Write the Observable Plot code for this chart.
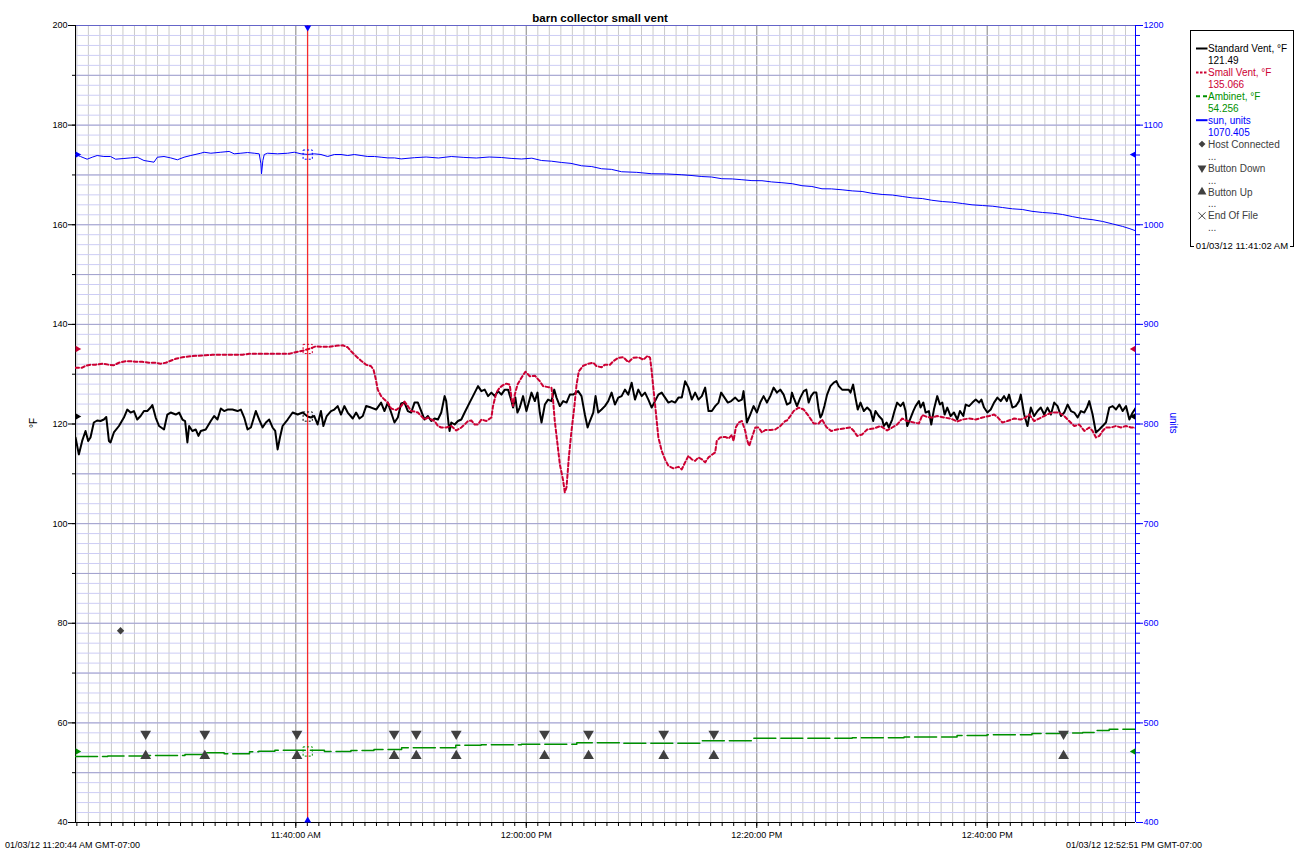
<!DOCTYPE html>
<html><head><meta charset="utf-8">
<script src="https://cdn.jsdelivr.net/npm/d3@7"></script>
<script src="https://cdn.jsdelivr.net/npm/@observablehq/plot@0.6"></script>
<style>body{margin:0;background:#fff;} svg{display:block;}</style>
</head><body><div id="chart"></div>
<script>
// ---------- data (t = minutes after axis start, v = value) ----------
const chartTitle = "barn collector small vent";
const startLabel = "01/03/12 11:20:44 AM GMT-07:00";
const endLabel = "01/03/12 12:52:51 PM GMT-07:00";
const cursorLabel = "01/03/12 11:41:02 AM";
const axisStart = new Date(2012, 0, 3, 11, 20, 53);
const axisEnd = new Date(2012, 0, 3, 12, 52, 52);
const cursorMinute = 20.15;
const leftTicks = [40, 60, 80, 100, 120, 140, 160, 180, 200];
const rightTicks = [400, 500, 600, 700, 800, 900, 1000, 1100, 1200];
const seriesNames = ["Standard Vent, °F", "Small Vent, °F", "Ambinet, °F", "sun, units"];
const cursorValues = [121.49, 135.066, 54.256, 1070.405];
const eventNames = ["Host Connected", "Button Down", "Button Up", "End Of File"];

const standardVent = [
[0.00,117.3],[0.29,113.9],[0.58,116.6],[0.87,118.6],[1.10,116.6],[1.30,117.3],[1.59,120.3],[1.88,120.7],[2.17,120.6],[2.46,120.9],[2.67,121.4],[2.90,116.6],[3.04,116.3],[3.33,118.3],[3.77,119.6],[4.20,121.3],[4.49,122.9],[4.78,122.3],[5.07,122.6],[5.36,120.9],[5.65,121.6],[5.94,122.6],[6.23,122.6],[6.52,123.3],[6.67,123.8],[6.96,121.3],[7.25,119.6],[7.68,118.9],[7.97,121.9],[8.26,122.3],[8.70,121.9],[8.99,122.3],[9.28,120.9],[9.51,120.6],[9.71,116.3],[9.86,119.6],[10.14,118.6],[10.43,118.9],[10.67,117.6],[10.87,118.6],[11.30,118.9],[11.74,120.6],[12.03,121.6],[12.32,120.9],[12.61,123.1],[12.90,122.6],[13.19,122.9],[13.62,122.9],[14.06,122.6],[14.35,122.9],[14.64,121.3],[14.93,118.9],[15.22,119.3],[15.65,122.6],[15.94,120.9],[16.23,119.3],[16.52,120.3],[16.81,120.9],[17.10,119.3],[17.33,118.6],[17.54,114.9],[17.74,117.3],[17.97,119.6],[18.41,120.9],[18.84,122.3],[19.28,121.9],[19.71,122.3],[20.14,121.5],[20.43,121.3],[20.72,121.6],[21.01,119.9],[21.30,122.6],[21.51,119.6],[21.80,121.6],[22.17,122.6],[22.46,122.9],[22.75,123.6],[23.04,121.9],[23.33,123.6],[23.62,122.3],[24.06,121.1],[24.35,122.3],[24.64,121.1],[24.93,121.6],[25.22,123.6],[25.65,123.3],[26.09,122.9],[26.52,124.3],[26.81,122.6],[27.10,124.3],[27.39,122.3],[27.68,120.3],[27.97,121.3],[28.26,124.1],[28.55,124.3],[28.84,122.6],[29.13,122.3],[29.42,124.3],[29.71,124.3],[30.00,122.6],[30.29,120.9],[30.58,121.6],
[30.87,120.6],[31.16,121.1],[31.45,120.9],[31.74,122.3],[32.03,125.6],[32.17,124.6],[32.38,119.9],[32.46,118.6],[32.61,120.3],[32.90,119.9],[33.19,120.6],[33.48,120.9],[33.77,122.3],[34.20,124.3],[34.49,125.6],[34.93,127.6],[35.22,126.6],[35.51,126.9],[35.80,125.6],[36.09,126.3],[36.38,125.6],[36.67,126.6],[36.96,125.9],[37.25,126.9],[37.54,126.9],[37.83,124.6],[37.97,123.3],[38.17,125.3],[38.35,122.3],[38.55,123.3],[38.84,125.6],[39.13,122.6],[39.57,126.3],[39.86,124.6],[40.09,126.3],[40.29,122.3],[40.44,120.3],[40.73,123.9],[41.01,124.9],[41.30,124.6],[41.54,126.9],[41.74,125.3],[42.03,123.6],[42.32,124.6],[42.61,124.3],[42.90,125.9],[43.19,125.9],[43.62,126.6],[43.91,125.6],[44.20,121.9],[44.44,119.3],[44.64,120.6],[44.93,122.3],[45.13,125.6],[45.36,122.3],[45.65,122.9],[45.94,123.6],[46.23,124.6],[46.52,126.3],[46.81,123.9],[47.10,125.3],[47.39,125.6],[47.68,126.9],[47.97,125.9],[48.26,128.3],[48.55,124.9],[48.84,126.9],[49.13,125.6],[49.42,126.3],[49.71,124.9],[50.00,123.3],[50.29,124.6],[50.58,125.9],[50.87,126.3],[51.16,125.3],[51.45,124.3],[51.74,124.6],[52.03,124.3],[52.32,125.3],[52.61,125.3],[52.90,128.6],[53.19,127.3],[53.48,124.9],[53.77,126.3],[54.06,124.9],[54.35,125.6],[54.64,127.3],[54.93,122.6],[55.22,122.6],[55.51,123.6],[55.80,124.3],[56.03,126.3],[56.32,125.3],[56.61,124.3],[56.90,124.6],[57.25,125.3],[57.54,124.6],[57.83,124.9],[57.97,126.6],[58.26,120.3],[58.55,121.9],[58.84,123.6],[59.13,122.3],[59.42,124.3],[59.71,125.6],[60.00,124.3],[60.29,125.6],[60.58,127.3],[60.87,126.3],[61.16,126.9],[61.45,125.9],
[61.74,123.9],[62.03,124.3],[62.17,126.3],[62.32,125.3],[62.61,123.6],[62.90,125.3],[63.19,126.6],[63.42,126.9],[63.62,124.3],[63.83,125.6],[64.06,126.3],[64.29,126.3],[64.49,122.9],[64.64,121.3],[64.78,121.9],[64.99,123.6],[65.22,125.9],[65.51,127.6],[65.80,128.3],[66.03,128.6],[66.23,127.6],[66.52,126.9],[66.81,126.9],[67.10,126.9],[67.25,126.3],[67.48,127.9],[67.68,125.3],[67.88,122.9],[68.12,124.3],[68.41,122.6],[68.70,123.3],[68.99,122.6],[69.22,120.6],[69.42,122.6],[69.71,121.6],[70.00,120.9],[70.15,119.6],[70.38,120.3],[70.58,119.3],[70.87,120.9],[71.07,122.6],[71.30,124.3],[71.59,123.6],[71.83,124.3],[72.03,122.6],[72.17,119.6],[72.41,120.9],[72.70,122.6],[72.90,123.6],[73.19,124.6],[73.33,123.3],[73.57,124.3],[73.77,122.3],[74.06,122.6],[74.26,119.9],[74.49,122.9],[74.78,125.6],[75.01,123.9],[75.22,124.3],[75.42,121.9],[75.65,123.3],[75.94,121.6],[76.23,122.3],[76.52,120.9],[76.75,122.6],[77.04,121.6],[77.25,123.9],[77.54,123.6],[77.83,124.3],[78.12,124.9],[78.41,124.3],[78.61,124.9],[78.84,123.3],[79.13,122.3],[79.42,122.9],[79.71,124.3],[80.00,125.3],[80.29,124.6],[80.58,125.6],[80.81,124.6],[81.01,125.9],[81.30,123.3],[81.59,123.6],[81.88,124.6],[82.03,125.9],[82.32,121.9],[82.61,119.6],[82.90,123.3],[83.19,121.6],[83.48,122.6],[83.77,123.3],[84.06,121.9],[84.35,123.3],[84.64,121.9],[84.93,124.3],[85.22,123.6],[85.51,121.6],[85.80,122.3],[86.09,123.9],[86.38,122.6],[86.67,122.3],[86.96,121.3],[87.25,122.6],[87.54,122.3],[87.77,123.3],[87.97,124.6],[88.26,121.9],[88.55,118.3],[88.84,118.9],[89.13,119.6],[89.42,120.3],[89.71,123.3],[90.00,123.6],[90.29,122.9],[90.58,123.9],[90.87,122.6],[91.16,123.6],[91.45,120.9],[91.74,122.3],[92.03,123.3],[92.17,122.3]
];

const smallVent = [
[0.00,131.3],[0.58,131.3],[0.87,131.7],[1.30,131.9],[1.74,131.9],[2.32,132.1],[2.90,131.9],[3.33,131.8],[3.77,132.3],[4.35,132.6],[4.78,132.6],[5.22,132.5],[5.80,132.5],[6.38,132.3],[6.96,132.3],[7.39,132.1],[7.83,132.3],[8.26,132.7],[8.70,133.1],[9.28,133.4],[10.00,133.6],[10.58,133.7],[11.30,133.8],[11.88,133.9],[12.75,133.9],[13.62,133.9],[14.49,133.9],[15.07,134.1],[15.94,134.1],[16.81,134.1],[17.68,134.1],[18.55,134.1],[19.28,134.5],[19.86,134.8],[20.29,135.1],[20.87,135.6],[21.45,135.5],[22.03,135.5],[22.61,135.7],[23.19,135.8],[23.62,135.4],[23.91,134.6],[24.35,133.6],[24.78,132.7],[25.22,131.9],[25.65,131.6],[25.86,130.9],[26.03,129.3],[26.23,126.9],[26.52,125.6],[26.81,124.9],[27.10,124.3],[27.39,123.1],[27.83,122.8],[28.26,123.6],[28.55,124.5],[28.84,123.6],[29.13,122.6],[29.42,122.5],[29.71,122.3],[30.00,121.6],[30.29,120.9],[30.58,121.3],
[30.87,120.9],[31.16,120.6],[31.45,119.6],[31.74,119.3],[32.17,119.3],[32.61,119.6],[33.04,118.7],[33.48,119.3],[33.77,119.9],[34.06,120.6],[34.35,120.7],[34.64,119.9],[34.93,119.9],[35.22,120.9],[35.65,120.6],[36.09,121.3],[36.23,123.6],[36.52,126.3],[36.81,127.3],[37.10,127.8],[37.39,128.1],[37.68,127.9],[37.83,125.3],[37.97,123.6],[38.12,125.9],[38.35,127.9],[38.70,129.3],[39.04,130.5],[39.42,129.6],[39.86,129.7],[40.29,128.6],[40.58,127.6],[41.01,127.4],[41.30,127.3],[41.45,124.6],[41.59,120.6],[41.83,115.9],[42.03,111.9],[42.32,108.6],[42.46,106.3],[42.61,107.3],[42.81,113.3],[43.04,118.6],[43.28,123.3],[43.48,127.9],[43.68,130.6],[44.06,131.7],[44.49,132.1],[44.93,132.3],[45.22,131.6],[45.65,131.4],[45.94,131.9],[46.38,131.9],[46.67,132.6],[47.10,133.3],[47.54,133.4],[47.97,132.4],[48.41,133.3],[48.84,133.4],[49.28,132.9],[49.65,133.7],[49.86,133.3],[50.00,130.6],[50.14,127.3],[50.35,122.6],[50.58,117.3],[50.87,114.6],[51.16,112.9],[51.45,111.6],[51.88,111.1],[52.32,111.4],[52.61,110.9],[52.90,112.3],[53.19,113.6],[53.48,112.9],[53.77,112.6],[54.06,113.3],[54.35,112.9],[54.64,112.3],[54.93,113.3],[55.22,113.8],[55.51,114.3],[55.65,116.6],[55.94,117.3],[56.38,117.4],[56.67,117.1],[56.96,117.8],[57.10,116.6],[57.30,119.3],[57.54,120.3],[57.83,120.6],[58.12,118.6],[58.26,116.9],[58.46,115.6],[58.70,117.3],[58.99,119.3],[59.28,119.3],[59.57,118.3],[59.86,118.8],[60.29,118.8],[60.72,118.9],[61.16,119.6],[61.59,120.6],
[61.74,120.7],[62.03,121.6],[62.32,122.6],[62.75,123.3],[63.19,122.9],[63.62,121.6],[64.06,120.1],[64.49,120.1],[64.78,120.9],[65.16,119.4],[65.57,118.6],[66.09,118.9],[66.67,119.1],[67.25,119.3],[67.54,118.6],[67.83,117.6],[68.26,117.9],[68.70,118.9],[69.28,119.1],[69.86,119.6],[70.43,118.7],[70.87,119.3],[71.30,119.9],[71.74,121.1],[72.17,120.6],[72.75,120.3],[73.19,120.1],[73.48,121.8],[73.91,121.4],[74.35,121.3],[74.78,121.6],[75.36,121.3],[75.94,121.1],[76.52,120.5],[76.96,120.9],[77.54,121.1],[78.12,120.9],[78.70,121.3],[79.28,121.6],[79.71,121.9],[80.00,121.4],[80.43,120.3],[80.87,120.6],[81.45,121.1],[82.03,120.9],[82.46,121.3],[82.75,121.9],[83.19,120.6],[83.62,121.1],[84.06,121.6],[84.49,122.1],[84.93,122.3],[85.36,122.3],[85.80,121.6],[86.23,120.6],[86.67,119.6],[87.10,119.9],[87.54,118.6],[87.97,119.3],[88.26,118.6],[88.55,117.3],[88.84,117.6],[89.13,118.6],[89.42,119.3],[89.86,119.3],[90.29,119.6],[90.72,119.3],[91.16,119.6],[91.59,119.3],[91.88,119.3],[92.17,119.1]
];

const ambinet = [
[0.00,53.25],[2.8,53.35],[6.1,53.45],[9.5,53.65],[11.1,54.0],[12.9,53.8],[15.1,54.2],[15.9,54.3],[17.3,54.5],[21.6,54.25],[23.9,54.45],[25.9,54.65],[28.3,55.0],[33.0,55.5],[35.2,55.6],[38.7,55.7],[43.5,56.0],[47.4,55.9],[54.3,56.4],[58.7,56.9],[67.4,57.0],[71.9,57.15],[76.5,57.45],[79.1,57.6],[83.0,57.85],[85.4,57.95],[87.4,58.05],[88.5,58.45],[89.7,58.7],[92.2,58.7]
];

const sun = [
[0.00,1070.5],[0.43,1068.5],[1.01,1065.8],[1.45,1067.8],[1.88,1069.5],[2.46,1068.5],[3.04,1068.5],[3.48,1065.8],[4.20,1066.5],[4.78,1067.1],[5.36,1067.8],[5.94,1064.5],[6.81,1062.8],[7.10,1067.8],[7.68,1068.5],[8.26,1067.1],[8.84,1065.2],[9.42,1067.8],[10.00,1069.5],[10.87,1071.8],[11.16,1072.8],[11.74,1071.8],[12.61,1072.8],[13.33,1073.6],[13.77,1071.2],[14.35,1071.8],[14.93,1072.5],[15.51,1071.8],[15.94,1071.2],[16.09,1061.2],[16.14,1051.1],[16.26,1064.5],[16.38,1070.5],[16.67,1071.8],[17.54,1071.2],[18.41,1071.8],[18.99,1072.8],[19.57,1071.2],[20.14,1070.6],[20.72,1071.2],[21.30,1070.5],[21.88,1068.5],[22.46,1070.5],[23.04,1070.5],[23.62,1069.5],[24.20,1070.5],[24.78,1069.5],[25.36,1068.5],[25.94,1068.5],[26.52,1067.8],[27.10,1067.1],[27.68,1067.1],[28.26,1066.1],[29.4,1067.3],[30.43,1068.0],[31.5,1067.0],[32.61,1068.5],[33.7,1067.6],[34.78,1067.0],[35.9,1068.0],[36.96,1067.5],[37.8,1066.6],[38.70,1066.0],[39.6,1066.8],[40.43,1064.5],[41.3,1063.8],[42.17,1062.5],[43.0,1061.6],[43.91,1059.2],[44.8,1058.4],[45.65,1056.2],[46.5,1055.6],[47.39,1053.2],[48.7,1052.6],[50.00,1051.2],[51.3,1051.0],[52.61,1050.2],[53.5,1049.4],[54.35,1048.4],[55.2,1047.9],[56.09,1046.2],[57.0,1046.0],[57.83,1045.2],[58.7,1044.3],[59.57,1044.2],[60.4,1043.0],[61.30,1042.2],[62.2,1041.2],[63.04,1039.2],[63.9,1038.4],[64.78,1036.1],[65.6,1036.0],[66.52,1035.1],[67.4,1034.0],[68.26,1033.4],[69.1,1031.6],[70.00,1030.4],[70.9,1029.8],[71.74,1028.4],[72.6,1027.0],[73.48,1026.3],[74.3,1024.6],[75.22,1023.3],[76.1,1022.6],[76.96,1021.3],[77.8,1020.0],[78.70,1019.3],[79.6,1018.6],[80.43,1017.3],[81.3,1016.0],[82.17,1015.3],[83.0,1013.5],[83.91,1012.3],[84.8,1011.6],[85.65,1010.3],[86.5,1008.2],[87.39,1006.3],[88.3,1005.0],[89.13,1003.3],[90.0,1000.8],[90.87,998.3],[91.5,996.0],[92.17,993.2]
];

const hostConnected = [[3.91, 78.5]];
const buttonMinutes = [6.09, 11.22, 19.22, 27.65, 29.57, 33.04, 40.70, 44.52, 51.04, 55.39, 85.74];
const buttonDownValue = 57.8;
const buttonUpValue = 53.35;

// ---------- helpers ----------
const RED = "#cc0033", GREEN = "#009000", BLUE = "#0000ff", GRAY = "#404040";
const seriesColors = ["#000000", RED, GREEN, BLUE];
const toDate = m => new Date(+axisStart + m * 60000);
const sunToLeft = u => 40 + (u - 400) / 5;
const leftToSun = v => (v - 40) * 5 + 400;
const cursorTime = toDate(cursorMinute);
const cursorPts = cursorValues.map((v, i) => ({v: i === 3 ? sunToLeft(v) : v, c: seriesColors[i]}));
const minuteTicks = d3.timeMinute.range(axisStart, axisEnd);
const labelTicks = d3.timeMinute.every(20).range(axisStart, axisEnd);
const minorY = d3.range(42, 200, 2);
const majorY = d3.range(50, 200, 10);
const X = d => toDate(d[0]);
const Y = d => d[1];
const FONT = "'Liberation Sans', Arial, sans-serif";

const svgNode = Plot.plot({
  width: 1304, height: 858,
  marginLeft: 75, marginRight: 169, marginTop: 25, marginBottom: 36,
  x: {type: "time", domain: [axisStart, axisEnd]},
  y: {domain: [40, 200]},
  style: {fontFamily: FONT, fontSize: "9px", background: "white", color: "black", overflow: "visible"},
  marks: [
    Plot.gridX(minuteTicks, {stroke: "#cacaca", strokeOpacity: 1}),
    Plot.gridX(labelTicks, {stroke: "#979797", strokeOpacity: 1}),
    Plot.gridY(minorY, {stroke: "#cdcdf5", strokeOpacity: 1}),
    Plot.gridY(majorY, {stroke: "#a2a2cc", strokeOpacity: 1}),
    Plot.ruleY([200], {stroke: "#6464c8"}),
    // axes
    Plot.axisX(minuteTicks, {tickSize: 4, tickFormat: () => "", label: null}),
    Plot.axisX(labelTicks, {tickSize: 6, tickPadding: 3, fontSize: 9, tickFormat: d3.timeFormat("%I:%M:%S %p"), label: null}),
    Plot.axisY(d3.range(40, 201, 10), {anchor: "left", tickSize: 3, tickFormat: () => "", label: null}),
    Plot.axisY(leftTicks, {anchor: "left", tickSize: 7, tickPadding: 1, fontSize: 9, label: null}),
    Plot.axisY(d3.range(40, 200.1, 2), {anchor: "right", color: BLUE, tickSize: 4, tickFormat: () => "", label: null}),
    Plot.axisY(rightTicks.map(sunToLeft), {anchor: "right", color: BLUE, tickSize: 7, tickPadding: 1, fontSize: 9, tickFormat: d => String(Math.round(leftToSun(d))), label: null}),
    Plot.ruleX([axisStart], {stroke: "black"}),
    Plot.ruleY([40], {stroke: "black"}),
    Plot.ruleX([axisEnd], {stroke: BLUE}),
    // series
    Plot.line(sun, {x: X, y: d => sunToLeft(d[1]), stroke: BLUE, strokeWidth: 1, clip: true}),
    Plot.line(ambinet, {x: X, y: Y, curve: "step-after", stroke: GREEN, strokeWidth: 1.5, strokeDasharray: "22,5", clip: true}),
    Plot.line(standardVent, {x: X, y: Y, stroke: "black", strokeWidth: 2, clip: true}),
    Plot.line(smallVent, {x: X, y: Y, stroke: RED, strokeWidth: 2, strokeDasharray: "3.5,2.5", clip: true}),
    // events
    Plot.dot(hostConnected, {x: X, y: Y, symbol: "diamond2", r: 3.3, fill: GRAY}),
    Plot.dot(buttonMinutes, {x: d => toDate(d), y: () => buttonDownValue, symbol: "triangle", rotate: 180, r: 4, fill: GRAY}),
    Plot.dot(buttonMinutes, {x: d => toDate(d), y: () => buttonUpValue, symbol: "triangle", r: 4, fill: GRAY}),
    // cursor
    Plot.ruleX([cursorTime], {stroke: "#ff0000"}),
    Plot.dot([cursorTime], {x: d => d, y: () => 200, symbol: "triangle", rotate: 180, r: 2.6, fill: BLUE, dy: 2}),
    Plot.dot([cursorTime], {x: d => d, y: () => 40, symbol: "triangle", r: 2.6, fill: BLUE, dy: -2}),
    Plot.dot(cursorPts, {x: () => cursorTime, y: "v", symbol: "square", r: 5.2, fill: "none", stroke: "c", strokeWidth: 1, strokeDasharray: "2,2"}),
    Plot.dot(cursorPts, {x: () => axisStart, y: "v", symbol: "triangle", rotate: 90, r: 2.4, fill: "c", dx: 2}),
    Plot.dot(cursorPts, {x: () => axisEnd, y: "v", symbol: "triangle", rotate: -90, r: 2.4, fill: "c", dx: -2})
  ]
});
document.getElementById("chart").appendChild(svgNode);

// ---------- texts and legend ----------
const svg = d3.select(svgNode);
const g = svg.append("g").attr("font-family", FONT).attr("text-anchor", "start");
g.append("text").attr("x", 600).attr("y", 22).attr("text-anchor", "middle")
  .attr("font-size", 11.5).attr("font-weight", "bold").text(chartTitle);
g.append("text").attr("transform", "translate(37,423) rotate(-90)").attr("text-anchor", "middle")
  .attr("font-size", 10).text("°F");
g.append("text").attr("transform", "translate(1170,423) rotate(90)").attr("text-anchor", "middle")
  .attr("font-size", 10).attr("fill", BLUE).text("units");
g.append("text").attr("x", 5).attr("y", 848).attr("font-size", 9).attr("text-anchor", "start").text(startLabel);
g.append("text").attr("x", 1066).attr("y", 848).attr("font-size", 9).attr("text-anchor", "start").text(endLabel);

const lg = g.append("g").attr("font-size", 10).attr("text-anchor", "start");
lg.append("rect").attr("x", 1190.5).attr("y", 30.5).attr("width", 103).attr("height", 216)
  .attr("fill", "white").attr("stroke", "black");
const rowY = i => 48.5 + i * 11.95;
const sampleDash = ["", "2.5,1.5", "4,3", ""];
seriesNames.forEach((name, i) => {
  const y0 = rowY(2 * i);
  lg.append("line").attr("x1", 1196).attr("x2", 1207.5).attr("y1", y0).attr("y2", y0)
    .attr("stroke", seriesColors[i]).attr("stroke-width", 2).attr("stroke-dasharray", sampleDash[i] || null);
  lg.append("text").attr("x", 1208).attr("y", y0 + 3.6).attr("fill", seriesColors[i]).text(name);
  lg.append("text").attr("x", 1208).attr("y", rowY(2 * i + 1) + 3.6).attr("fill", seriesColors[i]).text(String(cursorValues[i]));
});
eventNames.forEach((name, j) => {
  const i = 8 + 2 * j, y0 = rowY(i), cx = 1202;
  if (j === 0) lg.append("path").attr("transform", `translate(${cx},${y0})`).attr("d", d3.symbol(d3.symbolDiamond2, 30)()).attr("fill", GRAY);
  if (j === 1) lg.append("path").attr("transform", `translate(${cx},${y0}) rotate(180)`).attr("d", d3.symbol(d3.symbolTriangle, 34)()).attr("fill", GRAY);
  if (j === 2) lg.append("path").attr("transform", `translate(${cx},${y0})`).attr("d", d3.symbol(d3.symbolTriangle, 34)()).attr("fill", GRAY);
  if (j === 3) lg.append("path").attr("d", `M${cx-3.5},${y0-3.5}L${cx+3.5},${y0+3.5}M${cx+3.5},${y0-3.5}L${cx-3.5},${y0+3.5}`).attr("stroke", GRAY).attr("stroke-width", 1);
  lg.append("text").attr("x", 1208).attr("y", y0 + 3.6).attr("fill", GRAY).text(name);
  lg.append("text").attr("x", 1208).attr("y", rowY(i + 1) + 3.6).attr("fill", GRAY).text("...");
});
lg.append("rect").attr("x", 1194).attr("y", 240).attr("width", 96).attr("height", 12).attr("fill", "white");
lg.append("text").attr("x", 1242).attr("y", 249).attr("text-anchor", "middle").attr("font-size", 9.5).text(cursorLabel);
</script>
</body></html>
